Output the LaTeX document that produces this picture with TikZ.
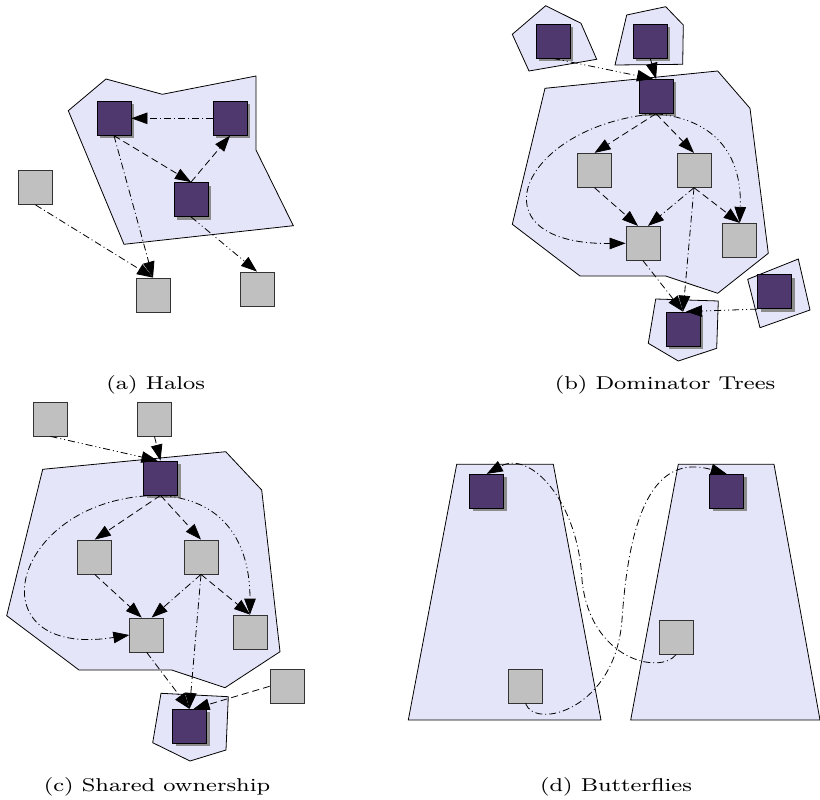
\documentclass[tikz,border=0pt]{standalone}
\usetikzlibrary{arrows.meta,shadows}
\definecolor{halofill}{RGB}{229,229,250}
\definecolor{ownerfill}{RGB}{78,56,110}
\definecolor{objfill}{RGB}{192,192,192}
\definecolor{shadowgray}{RGB}{140,140,140}
\tikzset{
  halo/.style={draw=black, line width=0.8pt, fill=halofill},
  owner/.style={draw=black, line width=0.8pt, fill=ownerfill, minimum size=34pt, inner sep=0pt,
    drop shadow={shadow xshift=3pt, shadow yshift=-3pt, fill=shadowgray, opacity=1}},
  obj/.style={draw=black!80, line width=0.8pt, fill=objfill, minimum size=34pt, inner sep=0pt},
  ref/.style={line width=0.8pt, -{Triangle[length=16pt,width=11.5pt]}},
  dline/.style={ref, dash pattern=on 7pt off 4pt},
  ddot/.style={ref, dash pattern=on 7pt off 3pt on 1pt off 3pt},
  dddot/.style={ref, dash pattern=on 7pt off 3pt on 1pt off 3pt on 1pt off 3pt},
  caption/.style={anchor=base, scale=2.32, xscale=1.24, font=\fontsize{8}{10}\selectfont},
}
\begin{document}
\begin{tikzpicture}[x=1pt,y=-1pt]
\useasboundingbox (0,0) rectangle (820,800);

% ---------- (a) Halos ----------
\draw[halo] (68.3,110.7) -- (106,79) -- (162.3,94.3) -- (256,76) -- (256,150)
  -- (293.3,225.7) -- (124,244.3) -- cycle;
\node[owner] (aA) at (114,118.3) {};
\node[owner] (aB) at (230,118.3) {};
\node[owner] (aC) at (191,199.5) {};
\node[obj] (aD) at (35.5,187.5) {};
\node[obj] (aE) at (153,295) {};
\node[obj] (aF) at (257,289) {};
\draw[ddot] (aB.west) -- (aA.east);
\draw[dline] (aA.south) -- (aC.north);
\draw[dline] (aC.north) -- (aB.south);
\draw[ddot] (aA.south) -- (aE.north);
\draw[ddot] (aD.south) -- (aE.north);
\draw[dddot] (aC.south) -- (aF.north);
\node[caption] (capa) at (155.7,389) {(a) Halos};

% ---------- (b) Dominator Trees ----------
\draw[halo] (545,88.3) -- (717.7,71) -- (750,108.3) -- (768.3,253.3) -- (717.7,293.3)
  -- (665.7,276) -- (580,276) -- (512.3,224.3) -- cycle;
\draw[halo] (512.3,34.3) -- (545.7,5.7) -- (581,23.3) -- (596.7,59.3) -- (529,71) -- cycle;
\draw[halo] (615,65) -- (626.7,15) -- (665.7,6.7) -- (683.3,25) -- (682.7,64.3) -- cycle;
\draw[halo] (655.7,299) -- (718.3,301) -- (716.7,348.3) -- (678.3,361) -- (648.3,343.3) -- cycle;
\draw[halo] (747.7,279.3) -- (798.3,259) -- (810,310) -- (760,327.7) -- cycle;
\node[owner] (bTL) at (553,41) {};
\node[owner] (bTR) at (650.3,41) {};
\node[owner] (bRoot) at (656,96.3) {};
\node[obj] (bG1) at (594.5,170.3) {};
\node[obj] (bG2) at (694,170.3) {};
\node[obj] (bG3) at (643,243.3) {};
\node[obj] (bG4) at (739.7,240.3) {};
\node[owner] (bBot) at (683,329) {};
\node[owner] (bR) at (774.5,291.7) {};
\draw[dddot] (bTL.south) -- ([xshift=-3pt]bRoot.north);
\draw[ddot] (bTR.south) -- (bRoot.north);
\draw[dline] (bRoot.south) -- (bG1.north);
\draw[dline] (bRoot.south) -- (bG2.north);
\draw[ddot] (bRoot.south) .. controls (520,125) and (470,245) .. (bG3.west);
\draw[dddot] (bRoot.south) .. controls (720,120) and (742,160) .. (bG4.north);
\draw[dline] (bG1.south) -- ([xshift=-5pt]bG3.north);
\draw[ddot] (bG2.south) -- ([xshift=5pt]bG3.north);
\draw[dline] (bG2.south) -- (bG4.north);
\draw[ddot] (bG2.south) -- (bBot.north);
\draw[ddot] (bG3.south) -- (bBot.north);
\draw[dddot] (bR.south west) -- ([xshift=3pt]bBot.north);
\node[caption] (capb) at (665,389) {(b) Dominator Trees};

% ---------- (c) Shared ownership ----------
\draw[halo] (42.7,469.3) -- (225.7,451.7) -- (261.7,490) -- (280,651.7) -- (225,687.7)
  -- (171.7,670) -- (79,670) -- (6.7,615.7) -- cycle;
\draw[halo] (161,693.3) -- (228.3,696.7) -- (226,750) -- (190,761) -- (152.7,742.7) -- cycle;
\node[obj] (cTL) at (50.5,419) {};
\node[obj] (cTM) at (154.5,419) {};
\node[owner] (cRoot) at (160.5,478) {};
\node[obj] (cG1) at (94.7,557) {};
\node[obj] (cG2) at (201,557) {};
\node[obj] (cG3) at (146.7,635) {};
\node[obj] (cG4) at (250,632) {};
\node[obj] (cR) at (287,686.3) {};
\node[owner] (cBot) at (189.5,726.3) {};
\draw[dddot] (cTL.south) -- ([xshift=-3pt]cRoot.north);
\draw[ddot] (cTM.south) -- (cRoot.north);
\draw[dline] (cRoot.south) -- (cG1.north);
\draw[dline] (cRoot.south) -- (cG2.north);
\draw[ddot] (cRoot.south) .. controls (10,495) and (-30,660) .. (cG3.west);
\draw[dddot] (cRoot.south) .. controls (230,500) and (250,550) .. (cG4.north);
\draw[dline] (cG1.south) -- ([xshift=-5pt]cG3.north);
\draw[ddot] (cG2.south) -- ([xshift=5pt]cG3.north);
\draw[dline] (cG2.south) -- (cG4.north);
\draw[ddot] (cG2.south) -- (cBot.north);
\draw[ddot] (cG3.south) -- (cBot.north);
\draw[dline] (cR.west) -- ([xshift=4pt]cBot.north);
\node[caption] (capc) at (157,791) {(c) Shared ownership};

% ---------- (d) Butterflies ----------
\draw[halo] (456.7,464.3) -- (553.3,464.3) -- (601,720) -- (408.3,720) -- cycle;
\draw[halo] (678.3,464.3) -- (774,464.3) -- (820,720) -- (630.7,720) -- cycle;
\node[owner] (dL) at (486.7,491.3) {};
\node[owner] (dR) at (726.7,491.3) {};
\node[obj] (dLG) at (525.5,686) {};
\node[obj] (dRG) at (676,637.3) {};
\draw[ddot] (dRG.south) .. controls (660,675) and (590,660) .. (582,580)
  .. controls (578,500) and (530,450) .. (dL.north);
\draw[ddot] (dLG.south) .. controls (535,730) and (615,710) .. (622,620)
  .. controls (630,500) and (660,455) .. (dR.north);
\node[caption] (capd) at (616,791) {(d) Butterflies};
\end{tikzpicture}
\end{document}
